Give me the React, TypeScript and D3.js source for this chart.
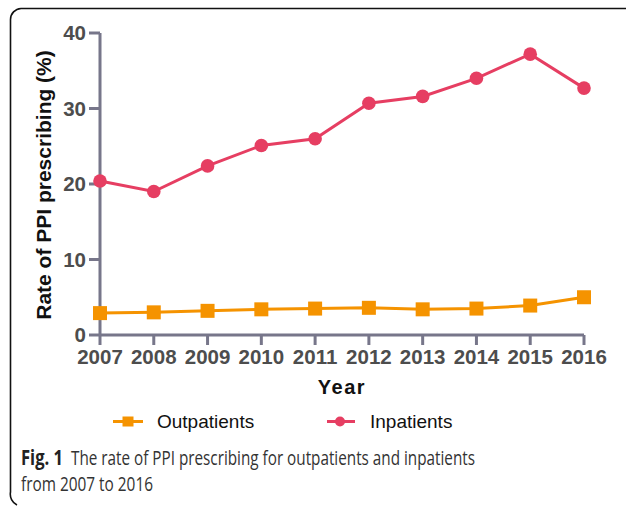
import React from 'react';
import * as d3 from 'd3';

const years = ['2007', '2008', '2009', '2010', '2011', '2012', '2013', '2014', '2015', '2016'];
const outpatients = [2.9, 3.0, 3.2, 3.4, 3.5, 3.6, 3.4, 3.5, 3.9, 5.0];
const inpatients = [20.4, 19.0, 22.4, 25.1, 26.0, 30.7, 31.6, 34.0, 37.2, 32.7];
const yTicks = [0, 10, 20, 30, 40];

const ORANGE = '#f59300';
const RED = '#e63e62';
const AXIS = '#77768a';
const TICK_TEXT = '#4d4d4d';

export default function App() {
  const x = d3.scalePoint<string>().domain(years).range([100, 584]);
  const y = d3.scaleLinear().domain([0, 40]).range([335, 33]);

  const line = d3
    .line<number>()
    .x((d, i) => x(years[i]) as number)
    .y((d) => y(d));

  const axisFont = 'Liberation Sans, Arial, sans-serif';
  const captionFont = 'Open Sans, Noto Sans, sans-serif';

  return (
    <svg
      width={627}
      height={506}
      style={{position: 'absolute', left: 0, top: 0, background: '#fff'}}
    >
      {/* frame */}
      <path
        d="M626,8.5 H21 A11,11 0 0 0 10.5,19.5 V492 A12,12 0 0 0 17,505"
        fill="none"
        stroke="#111"
        strokeWidth={1.6}
      />

      {/* y axis */}
      <line x1={100} x2={100} y1={y(40)} y2={y(0)} stroke={AXIS} strokeWidth={3} />
      {yTicks.map((t) => (
        <g key={t}>
          <line x1={89} x2={100} y1={y(t)} y2={y(t)} stroke={AXIS} strokeWidth={3} />
          <text
            x={86}
            y={y(t)}
            dy="0.36em"
            textAnchor="end"
            fontFamily={axisFont}
            fontWeight="bold"
            fontSize={20.5}
            fill={TICK_TEXT}
          >
            {t}
          </text>
        </g>
      ))}

      {/* x axis */}
      <line x1={100} x2={584} y1={y(0)} y2={y(0)} stroke={AXIS} strokeWidth={3} />
      {years.map((yr) => (
        <g key={yr}>
          <line
            x1={x(yr)}
            x2={x(yr)}
            y1={y(0)}
            y2={y(0) + 10}
            stroke={AXIS}
            strokeWidth={3}
          />
          <text
            x={x(yr)}
            y={364}
            textAnchor="middle"
            fontFamily={axisFont}
            fontWeight="bold"
            fontSize={20.5}
            fill={TICK_TEXT}
          >
            {yr}
          </text>
        </g>
      ))}

      {/* axis titles */}
      <text
        x={342}
        y={394}
        textAnchor="middle"
        fontFamily={axisFont}
        fontWeight="bold"
        fontSize={20}
        letterSpacing={1.5}
        fill="#111"
      >
        Year
      </text>
      <text
        transform={`translate(51,${(47 + 323) / 2}) rotate(-90)`}
        textAnchor="middle"
        fontFamily={axisFont}
        fontWeight="bold"
        fontSize={21}
        fill="#111"
      >
        Rate of PPI prescribing (%)
      </text>

      {/* inpatients */}
      <path d={line(inpatients) || ''} fill="none" stroke={RED} strokeWidth={3} />
      {inpatients.map((v, i) => (
        <circle key={i} cx={x(years[i])} cy={y(v)} r={6.8} fill={RED} />
      ))}

      {/* outpatients */}
      <path d={line(outpatients) || ''} fill="none" stroke={ORANGE} strokeWidth={3} />
      {outpatients.map((v, i) => (
        <rect
          key={i}
          x={(x(years[i]) as number) - 7}
          y={y(v) - 7}
          width={14}
          height={14}
          fill={ORANGE}
        />
      ))}

      {/* legend */}
      <g>
        <line x1={113} x2={143} y1={421.5} y2={421.5} stroke={ORANGE} strokeWidth={3} />
        <rect x={122.5} y={416.5} width={11} height={10} fill={ORANGE} />
        <text x={157} y={428} fontFamily={axisFont} fontSize={19} fill="#111">
          Outpatients
        </text>
        <line x1={327} x2={355} y1={421.5} y2={421.5} stroke={RED} strokeWidth={3} />
        <circle cx={340} cy={421.5} r={5} fill={RED} />
        <text x={370} y={428} fontFamily={axisFont} fontSize={19} fill="#111">
          Inpatients
        </text>
      </g>

      {/* caption */}
      <text
        x={21}
        y={465}
        fontFamily={captionFont}
        fontWeight="bold"
        fontSize={20.5}
        fill="#222"
        textLength={42}
        lengthAdjust="spacingAndGlyphs"
      >
        Fig. 1
      </text>
      <text
        x={71}
        y={465}
        fontFamily={captionFont}
        fontSize={20.5}
        fill="#333"
        textLength={404}
        lengthAdjust="spacingAndGlyphs"
      >
        The rate of PPI prescribing for outpatients and inpatients
      </text>
      <text
        x={21}
        y={491}
        fontFamily={captionFont}
        fontSize={20.5}
        fill="#333"
        textLength={132}
        lengthAdjust="spacingAndGlyphs"
      >
        from 2007 to 2016
      </text>
    </svg>
  );
}
